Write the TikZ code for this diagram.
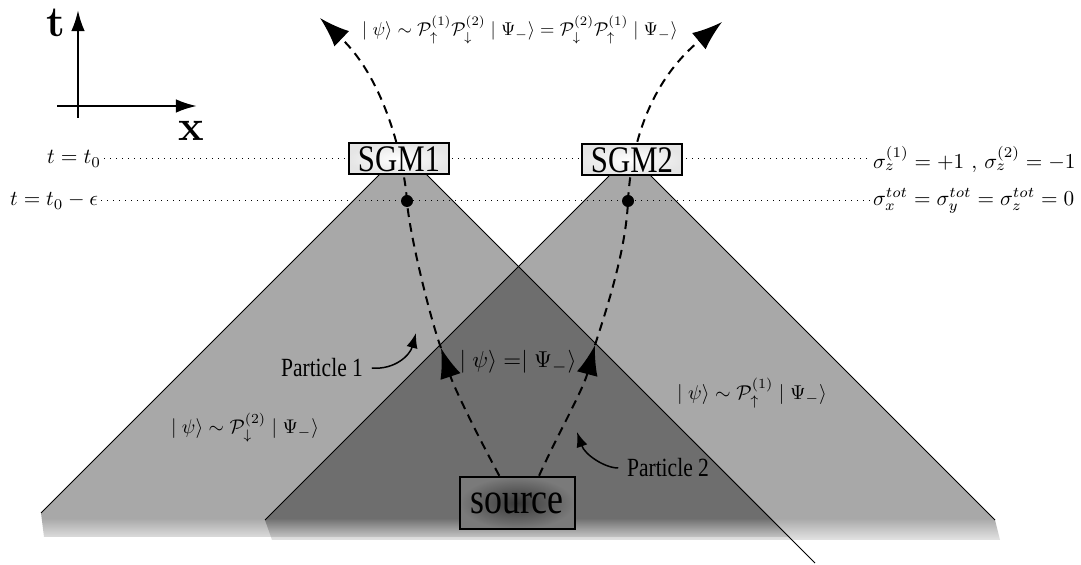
\documentclass[tikz,border=0pt]{standalone}
\usepackage{amsmath,amssymb}
\usepackage{fontspec}
\usepackage{tikz}
\usetikzlibrary{arrows.meta,fadings}

\newfontfamily\lblfont[FakeStretch=0.82]{Liberation Serif}

\begin{document}
\begin{tikzpicture}[
  x=0.4pt, y=-0.4pt,
  coneline/.style={thin},
  conefill/.style={fill=black!34},
  overlap/.style={fill=black!57},
  timeline/.style={dotted},
  track/.style={thick, dash pattern=on 3.5pt off 2.5pt},
  trackarrow/.style={track, -{Latex[length=12pt,width=8.5pt]}},
  device/.style={draw, thick, minimum width=40pt, minimum height=12.4pt,
                 inner sep=1pt, inner color=white, outer color=black!10,
                 font=\lblfont\fontsize{15}{15}\selectfont},
  srcbox/.style={draw, thick, minimum width=46pt, minimum height=21pt,
                 inner sep=1pt, inner color=black!78, outer color=black!52,
                 font=\lblfont\fontsize{17.5}{17.5}\selectfont},
  event/.style={circle, fill=black, inner sep=0pt, minimum size=4.8pt},
  partlabel/.style={font=\lblfont\fontsize{10.5}{10.5}\selectfont},
  slice/.style={inner sep=1pt},
  pointer/.style={semithick, -{Latex[length=6pt,width=4.5pt]}},
  axis/.style={line width=1pt, -{Latex[length=8.5pt,width=5.5pt]}}
]
\fill[white] (0,0) rectangle (1081,565);
\useasboundingbox (0,0) rectangle (1081,565);

% light cones
\coordinate (apexL) at (403,151);
\coordinate (apexR) at (630,155);
\coordinate (baseLl) at (41,513);
\coordinate (baseLr) at (815,563);
\coordinate (baseRl) at (265,520);
\coordinate (baseRr) at (995,520);

\fill[conefill] (apexL) -- (baseLl) -- (44,537) -- (790,537) -- cycle;
\fill[conefill] (apexR) -- (baseRl) -- (272,540) -- (1000,540) -- (baseRr) -- cycle;
\begin{scope}
  \clip (apexR) -- (baseRl) -- (272,540) -- (1000,540) -- (baseRr) -- cycle;
  \fill[overlap] (apexL) -- (baseLl) -- (44,537) -- (790,537) -- cycle;
\end{scope}
\fill[white, path fading=north] (0,518) rectangle (1081,550);

\draw[coneline] (baseLl) -- (apexL) -- (baseLr);
\draw[coneline] (baseRl) -- (apexR) -- (baseRr);

% axes
\coordinate (tfoot) at (78,118);
\coordinate (ttip) at (78,10);
\coordinate (xfoot) at (57,106);
\coordinate (xtip) at (197,106);
\draw[axis] (tfoot) -- (ttip);
\draw[axis] (xfoot) -- (xtip);
\node[font=\LARGE\bfseries] (tlab) at (56,23) {t};
\node[font=\LARGE\bfseries] (xlab) at (191,131) {x};

% time slices
\node[slice, anchor=east] (tnow) at (104,159) {\scalebox{0.86}{$t=t_0$}};
\node[slice, anchor=east] (tbefore) at (101,201) {\scalebox{0.85}{$t=t_0-\epsilon$}};
\node[slice, anchor=west] (spinz) at (870,159) {\scalebox{0.85}{$\sigma_z^{(1)}=+1$ , $\sigma_z^{(2)}=-1$}};
\node[slice, anchor=west] (spintot) at (870,201) {\scalebox{0.85}{$\sigma_x^{tot}=\sigma_y^{tot}=\sigma_z^{tot}=0$}};
\draw[timeline] (tnow.east) -- (tnow.east -| spinz.west);
\draw[timeline] (tbefore.east) -- (tbefore.east -| spintot.west);

% particle tracks
\node[srcbox] (source) at (517,503) {source};
\node[event] (hit1) at (407,201) {};
\node[event] (hit2) at (628,201) {};
\coordinate (mid1) at (441,348);
\coordinate (mid2) at (595,345);
\coordinate (out1) at (320,18);
\coordinate (out2) at (722,22);
\draw[trackarrow] (source.123) .. controls (480,440) and (455,390) .. (mid1);
\draw[track] (mid1) .. controls (430,318) and (409,232) .. (hit1.center);
\draw[trackarrow] (hit1.center) .. controls (404,160) and (385,80) .. (out1);
\draw[trackarrow] (source.51) .. controls (555,440) and (583,390) .. (mid2);
\draw[track] (mid2) .. controls (607,308) and (626,250) .. (hit2.center);
\draw[trackarrow] (hit2.center) .. controls (630,165) and (640,90) .. (out2);

\node[device] (sgm1) at (399,159) {SGM1};
\node[device] (sgm2) at (632,160) {SGM2};

% labels
\coordinate (aim1) at (416,333);
\coordinate (aim2) at (577,432);
\node[partlabel] (lab1) at (322,368) {Particle 1};
\node[partlabel] (lab2) at (668,468) {Particle 2};
\draw[pointer] (lab1.east) .. controls (395,370) and (410,355) .. (aim1);
\draw[pointer] (lab2.west) .. controls (605,468) and (585,455) .. (aim2);

\node (stboth) at (518,362) {\scalebox{0.92}{$\mid\psi\rangle=\mid\Psi_-\rangle$}};
\node (stleft) at (245,428) {\scalebox{0.79}{$\mid\psi\rangle\sim\mathcal{P}^{(2)}_{\downarrow}\mid\Psi_-\rangle$}};
\node (stright) at (752,393) {\scalebox{0.8}{$\mid\psi\rangle\sim\mathcal{P}^{(1)}_{\uparrow}\mid\Psi_-\rangle$}};
\node (stfinal) at (520,30) {\scalebox{0.74}{$\mid\psi\rangle\sim\mathcal{P}^{(1)}_{\uparrow}\mathcal{P}^{(2)}_{\downarrow}\mid\Psi_-\rangle=\mathcal{P}^{(2)}_{\downarrow}\mathcal{P}^{(1)}_{\uparrow}\mid\Psi_-\rangle$}};
\end{tikzpicture}
\end{document}
